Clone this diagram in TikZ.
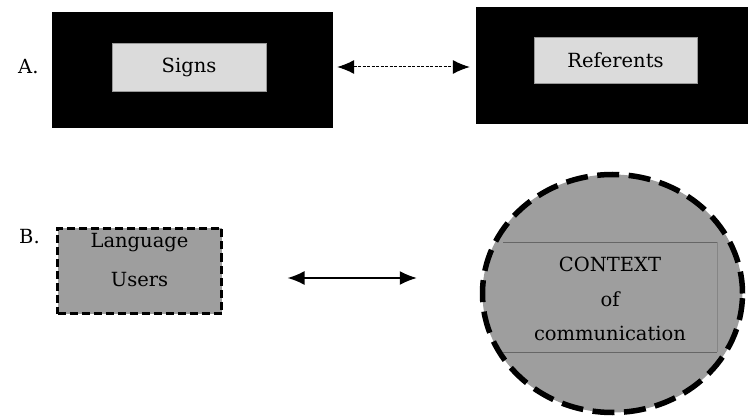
\documentclass[tikz,border=0pt]{standalone}
\usepackage{fontspec}
\setmainfont{DejaVu Serif}
\usetikzlibrary{arrows.meta,shapes.geometric}
\begin{document}
\begin{tikzpicture}[x=1pt,y=-1pt,
  lbl/.style={font=\fontsize{19.5}{22}\selectfont, inner sep=0pt},
  blackbox/.style={draw=black, fill=black, rectangle, inner sep=0pt},
  litebox/.style={draw=black!40, line width=0.6pt, fill=black!14, rectangle, inner sep=0pt},
  userbox/.style={draw=black, line width=2.2pt, dash pattern=on 8pt off 4pt, fill=black!38, rectangle, inner sep=0pt},
  ctxcircle/.style={draw=black, line width=5.5pt, dash pattern=on 22pt off 9.5pt, fill=black!38, ellipse, inner sep=0pt},
  bothtips/.style={{Latex[length=17pt,width=14pt]}-{Latex[length=17pt,width=14pt]}},
  bandline/.style={draw=black!60, line width=0.6pt}
]
\useasboundingbox (0,0) rectangle (748,417);
% Row A
\node[lbl, anchor=west] (labA) at (18,67) {A.};
\node[blackbox, minimum width=280pt, minimum height=115pt] (signsOuter) at (192,69.5) {};
\node[litebox, minimum width=154pt, minimum height=48pt] (signs) at (189,67) {};
\node[lbl] (signsTxt) at (189,67) {Signs};
\node[blackbox, minimum width=274pt, minimum height=116pt] (refOuter) at (613,65) {};
\node[litebox, minimum width=163pt, minimum height=46pt] (ref) at (615.5,60) {};
\node[lbl] (refTxt) at (615.5,60) {Referents};
\draw[bothtips, line width=1pt, dash pattern=on 3pt off 1.5pt, shorten <=5pt, shorten >=6pt] (signsOuter.east |- labA) -- (refOuter.west |- labA);
% Row B
\node[lbl, anchor=west] (labB) at (19,237) {B.};
\node[userbox, minimum width=164pt, minimum height=85pt] (users) at (139.5,271) {};
\node[lbl] (usersT1) at (139.5,243) {Language};
\node[lbl] (usersT2) at (139.5,280) {Users};
\node[ctxcircle, minimum width=260pt, minimum height=238pt] (ctx) at (612.5,293.5) {};
\coordinate (bandTL) at (503,242);
\coordinate (bandTR) at (717,242);
\coordinate (bandBL) at (503,352);
\coordinate (bandBR) at (717,352);
\draw[bandline] (bandTL) -- (bandTR);
\draw[bandline] (bandBL) -- (bandBR);
\draw[draw=black!48, line width=0.4pt] (bandTR) -- (bandBR);
\node[lbl] (ctxT1) at (610,264) {CONTEXT};
\node[lbl] (ctxT2) at (610,299) {of};
\node[lbl] (ctxT3) at (610,333) {communication};
\coordinate (bL) at (users.east |- 0,278);
\coordinate (bR) at (ctx.west |- 0,278);
\draw[bothtips, line width=1.4pt, shorten <=65pt, shorten >=63pt] (bL) -- (bR);
\end{tikzpicture}
\end{document}
